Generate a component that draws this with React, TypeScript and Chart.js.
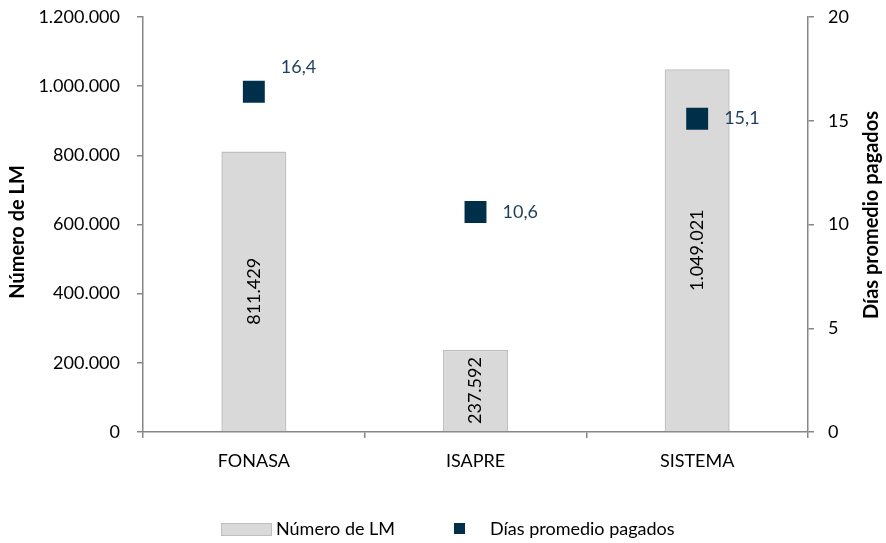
import React, { useEffect, useRef } from "react";
import { Chart, registerables } from "chart.js";

Chart.register(...registerables);

const categories = ["FONASA", "ISAPRE", "SISTEMA"];
const numeroLM = [811429, 237592, 1049021];
const diasPromedio = [16.4, 10.6, 15.1];
const leftTicks = [0, 200000, 400000, 600000, 800000, 1000000, 1200000];
const rightTicks = [0, 5, 10, 15, 20];
const pointLabelPlacement = ["aboveRight", "right", "right"];
const leftTitle = "Número de LM";
const rightTitle = "Días promedio pagados";

const FONT = "Lato, 'Open Sans', sans-serif";
const AXIS = "#868686";
const BAR_FILL = "#d9d9d9";
const BAR_BORDER = "#bfbfbf";
const POINT = "#003049";
const POINT_LABEL = "#1c3f5e";

const fmtThousands = (n: number) =>
  Math.round(n).toString().replace(/\B(?=(\d{3})+(?!\d))/g, ".");
const fmtDecimal = (n: number) => n.toFixed(1).replace(".", ",");

const labelPlugin = {
  id: "valueLabels",
  afterDatasetsDraw(chart: any) {
    const ctx = chart.ctx;
    ctx.save();
    ctx.font = `18px ${FONT}`;
    ctx.textBaseline = "middle";
    const barMeta = chart.getDatasetMeta(0);
    barMeta.data.forEach((el: any, i: number) => {
      const { x, y, base } = el.getProps(["x", "y", "base"], true);
      ctx.save();
      ctx.translate(x, (y + base) / 2);
      ctx.rotate(-Math.PI / 2);
      ctx.textAlign = "center";
      ctx.fillStyle = "#000000";
      ctx.fillText(fmtThousands(numeroLM[i]), 0, 0);
      ctx.restore();
    });
    const ptMeta = chart.getDatasetMeta(1);
    ptMeta.data.forEach((el: any, i: number) => {
      const { x, y } = el.getProps(["x", "y"], true);
      ctx.textAlign = "left";
      ctx.fillStyle = POINT_LABEL;
      const dy = pointLabelPlacement[i] === "aboveRight" ? -25 : 0;
      ctx.fillText(fmtDecimal(diasPromedio[i]), x + 27, y + dy);
    });
    // axis titles, reading bottom-to-top
    const drawTitle = (text: string, x: number, y: number) => {
      ctx.save();
      ctx.translate(x, y);
      ctx.rotate(-Math.PI / 2);
      ctx.textAlign = "center";
      ctx.fillStyle = "#000000";
      ctx.font = `bold 20px ${FONT}`;
      ctx.fillText(text, 0, 0);
      ctx.restore();
    };
    drawTitle(leftTitle, 18, 232);
    drawTitle(rightTitle, 872, 215);
    ctx.restore();
  },
};

const noVerticalPadding = (scale: any) => {
  scale.paddingTop = 0;
  scale.paddingBottom = 0;
};

export default function App() {
  const canvasRef = useRef<HTMLCanvasElement | null>(null);

  useEffect(() => {
    if (!canvasRef.current) return;
    const chart = new Chart(canvasRef.current, {
      type: "bar",
      data: {
        labels: categories,
        datasets: [
          {
            type: "bar",
            label: leftTitle,
            data: numeroLM,
            backgroundColor: BAR_FILL,
            borderColor: BAR_BORDER,
            borderWidth: 1.5,
            barPercentage: 0.293,
            categoryPercentage: 1,
            yAxisID: "y",
            order: 2,
          },
          {
            type: "line",
            label: rightTitle,
            data: diasPromedio,
            showLine: false,
            pointStyle: "rect",
            pointRadius: 15.5,
            pointHoverRadius: 15.5,
            pointBackgroundColor: POINT,
            pointBorderColor: POINT,
            pointBorderWidth: 0,
            yAxisID: "y1",
            order: 1,
          } as any,
        ],
      },
      options: {
        animation: false,
        responsive: false,
        maintainAspectRatio: false,
        layout: { padding: { top: 17, left: 0, right: 0, bottom: 0 } },
        plugins: {
          legend: { display: false },
          tooltip: { enabled: false },
        },
        scales: {
          x: {
            offset: true,
            grid: {
              display: true,
              drawOnChartArea: false,
              drawTicks: true,
              tickLength: 6,
              offset: true,
              color: AXIS,
              lineWidth: 1.5,
            },
            border: { display: true, color: AXIS, width: 1.5 },
            ticks: {
              color: "#000000",
              font: { family: FONT, size: 18 },
              padding: 12,
            },
            afterFit: (scale: any) => {
              scale.height = 543 - 432;
              scale.paddingLeft = 0;
              scale.paddingRight = 0;
            },
          },
          y: {
            position: "left",
            min: 0,
            max: 1200000,
            afterBuildTicks: (scale: any) => {
              scale.ticks = leftTicks.map((v) => ({ value: v }));
            },
            grid: {
              display: true,
              drawOnChartArea: false,
              drawTicks: true,
              tickLength: 6,
              color: AXIS,
              lineWidth: 1.5,
            },
            border: { display: true, color: AXIS, width: 1.5 },
            ticks: {
              color: "#000000",
              font: { family: FONT, size: 18 },
              padding: 17,
              callback: (v: any) => fmtThousands(Number(v)),
            },
            afterFit: (scale: any) => {
              scale.width = 143;
              noVerticalPadding(scale);
            },
          },
          y1: {
            position: "right",
            min: 0,
            max: 20,
            afterBuildTicks: (scale: any) => {
              scale.ticks = rightTicks.map((v) => ({ value: v }));
            },
            grid: {
              display: true,
              drawOnChartArea: false,
              drawTicks: true,
              tickLength: 6,
              color: AXIS,
              lineWidth: 1.5,
            },
            border: { display: true, color: AXIS, width: 1.5 },
            ticks: {
              color: "#000000",
              font: { family: FONT, size: 18 },
              padding: 14,
            },
            afterFit: (scale: any) => {
              scale.width = 886 - 808;
              noVerticalPadding(scale);
            },
          },
        },
      },
      plugins: [labelPlugin],
    });
    return () => chart.destroy();
  }, []);

  const textStyle: React.CSSProperties = {
    position: "absolute",
    top: 517,
    fontFamily: FONT,
    fontSize: 18,
    lineHeight: "22px",
    color: "#000000",
    whiteSpace: "nowrap",
  };

  return (
    <div
      style={{
        position: "fixed",
        left: 0,
        top: 0,
        width: 886,
        height: 543,
        background: "#ffffff",
        overflow: "hidden",
      }}
    >
      <canvas ref={canvasRef} width={886} height={543} style={{ display: "block" }} />
      <div
        style={{
          position: "absolute",
          left: 221,
          top: 523,
          width: 49,
          height: 11,
          background: BAR_FILL,
          border: `1px solid ${BAR_BORDER}`,
        }}
      />
      <div style={{ ...textStyle, left: 276 }}>{leftTitle}</div>
      <div
        style={{
          position: "absolute",
          left: 454,
          top: 523,
          width: 11,
          height: 11,
          background: POINT,
        }}
      />
      <div style={{ ...textStyle, left: 490 }}>{rightTitle}</div>
    </div>
  );
}
